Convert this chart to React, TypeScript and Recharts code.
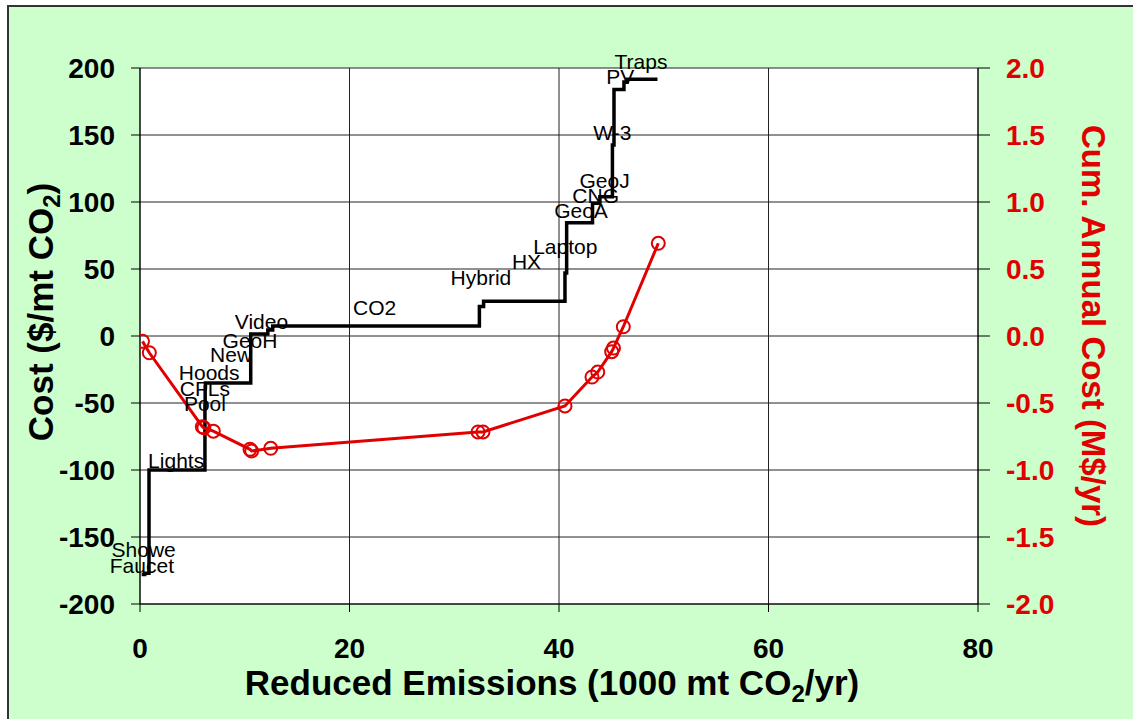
import React from "react";
import { ComposedChart, Line, XAxis, YAxis, CartesianGrid, Label, ReferenceDot } from "recharts";

// cost curve steps: start of each measure on the x axis and its cost
const stepX = [0.16, 0.45, 0.86, 6.2, 6.22, 6.25, 10.57, 12.2, 12.67, 32.4, 32.8, 40.57, 40.73, 43.2, 43.9, 45.1, 45.25, 46.2, 46.5, 49.4];
const stepCost = [-178, -177, -100, -52, -38, -35, 1.5, 4.5, 7.5, 22, 26, 47, 84.6, 99, 104, 142.5, 184, 189.5, 191.6, 191.6];

// cumulative annual cost (right axis)
const cumX = [0.24, 0.89, 5.95, 6.1, 7.0, 10.5, 10.66, 12.48, 32.27, 32.74, 40.57, 43.15, 43.7, 45.03, 45.2, 46.14, 49.48];
const cumCost = [-0.04, -0.125, -0.677, -0.685, -0.71, -0.846, -0.858, -0.838, -0.716, -0.716, -0.522, -0.306, -0.269, -0.117, -0.09, 0.069, 0.692];

// measure labels
const labelNames = ["Faucet", "Showe", "Lights", "Pool", "CFLs", "Hoods", "New", "GeoH", "Video", "CO2", "Hybrid", "HX", "Laptop", "GeoA", "CNG", "GeoJ", "W-3", "PV", "Traps"];
const labelX = [0.18, 0.35, 3.45, 6.2, 6.2, 6.6, 8.7, 10.5, 11.6, 22.4, 32.55, 36.9, 40.6, 42.1, 43.5, 44.35, 45.1, 45.85, 47.83];
const labelY = [-171, -159, -93, -50, -39, -27, -14, -3, 10.5, 21.6, 43.5, 55.5, 67, 94, 105, 116, 152, 194, 205];

const xTicks = [0, 20, 40, 60, 80];
const costTicks = [-200, -150, -100, -50, 0, 50, 100, 150, 200];
const cumTicks = [-2, -1.5, -1, -0.5, 0, 0.5, 1, 1.5, 2];

const RED = "#E00000";

const stepData = stepX.map((x, i) => ({ x, cost: stepCost[i] }));
const cumData = cumX.map((x, i) => ({ x, cum: cumCost[i] }));

const tickStyle = { fontSize: 28, fontWeight: 700, fill: "#000" };

export default function App() {
  return (
    <div style={{ position: "absolute", left: 0, top: 0, width: 1133, height: 719, background: "#fff", fontFamily: "'Liberation Sans', Arial, sans-serif" }}>
      <div style={{ position: "absolute", left: 7, top: 5, right: 0, bottom: 0, background: "#CCFFCC", borderLeft: "2px solid #333", borderTop: "2px solid #333" }} />
      <div style={{ position: "absolute", left: 0, top: 0 }}>
        <ComposedChart width={1133} height={719} margin={{ top: 68, right: 0, bottom: 0, left: 0 }}>
          <CartesianGrid yAxisId="left" stroke="#222" fill="#fff" fillOpacity={1} />
          <XAxis
            type="number"
            dataKey="x"
            domain={[0, 80]}
            ticks={xTicks}
            height={115}
            tick={tickStyle}
            tickSize={8}
            tickMargin={26}
            stroke="#000"
            allowDataOverflow
          >
            <Label
              content={({ viewBox }: any) => (
                <text x={viewBox.x + viewBox.width / 2 - 7} y={695} textAnchor="middle" fontSize={35} fontWeight={700} fill="#000">
                  Reduced Emissions (1000 mt CO<tspan dy={7} fontSize={24}>2</tspan>
                  <tspan dy={-7}>/yr)</tspan>
                </text>
              )}
            />
          </XAxis>
          <YAxis
            yAxisId="left"
            domain={[-200, 200]}
            ticks={costTicks}
            width={140}
            tick={tickStyle}
            tickSize={9}
            tickMargin={16}
            stroke="#000"
            allowDataOverflow
          >
            <Label
              content={() => (
                <text x={53} y={312} transform="rotate(-90, 53, 312)" textAnchor="middle" fontSize={35} fontWeight={700} fill="#000">
                  Cost ($/mt CO<tspan dy={7} fontSize={24}>2</tspan>
                  <tspan dy={-7}>)</tspan>
                </text>
              )}
            />
          </YAxis>
          <YAxis
            yAxisId="right"
            orientation="right"
            domain={[-2, 2]}
            ticks={cumTicks}
            width={155}
            tick={{ ...tickStyle, fill: RED }}
            tickFormatter={(v: number) => v.toFixed(1)}
            tickSize={12}
            tickMargin={16}
            stroke="#000"
            allowDataOverflow
          >
            <Label
              content={() => (
                <text x={1082} y={326} transform="rotate(90, 1082, 326)" textAnchor="middle" fontSize={33} fontWeight={700} fill={RED}>
                  Cum. Annual Cost (M$/yr)
                </text>
              )}
            />
          </YAxis>
          <Line
            yAxisId="left"
            data={stepData}
            dataKey="cost"
            type="stepAfter"
            stroke="#000"
            strokeWidth={3.5}
            dot={false}
            isAnimationActive={false}
          />
          <Line
            yAxisId="right"
            data={cumData}
            dataKey="cum"
            type="linear"
            stroke={RED}
            strokeWidth={3}
            dot={{ r: 6.5, stroke: RED, strokeWidth: 2, fill: "none" }}
            isAnimationActive={false}
          />
          {labelNames.map((name, i) => (
            <ReferenceDot
              key={name}
              yAxisId="left"
              x={labelX[i]}
              y={labelY[i]}
              ifOverflow="visible"
              shape={(p: any) => (
                <text x={p.cx} y={p.cy} dy="0.36em" textAnchor="middle" fontSize={21} fill="#000">
                  {name}
                </text>
              )}
            />
          ))}
        </ComposedChart>
      </div>
    </div>
  );
}
